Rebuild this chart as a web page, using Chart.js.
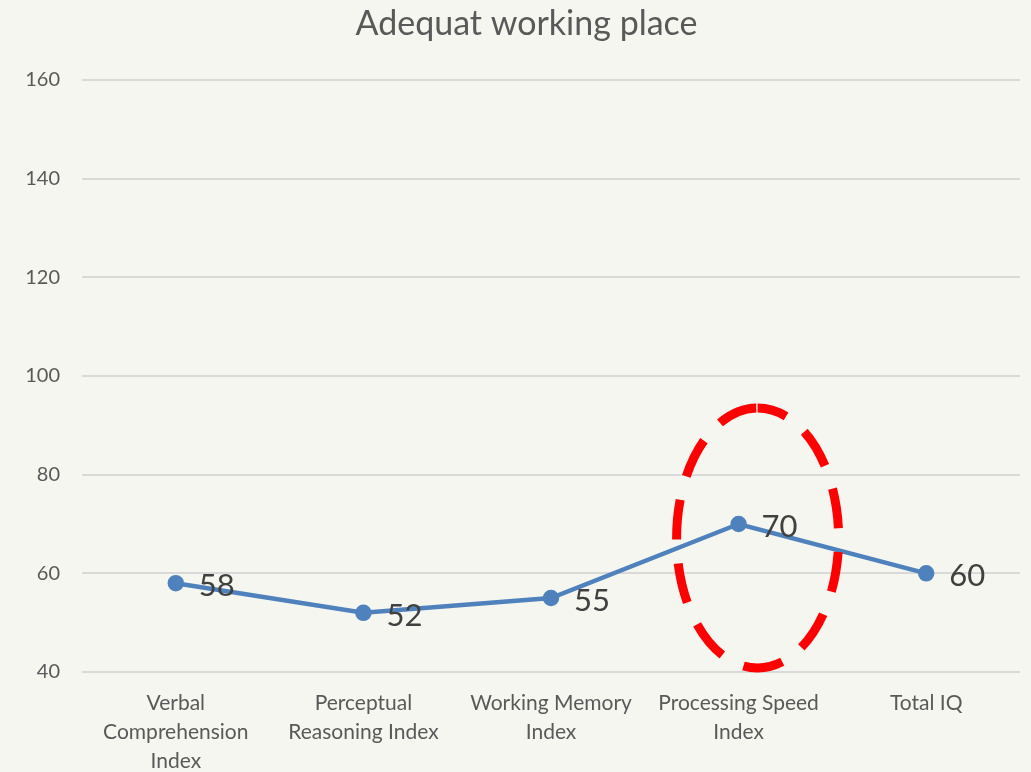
<!DOCTYPE html>
<html>
<head>
<meta charset="utf-8">
<script src="https://cdn.jsdelivr.net/npm/chart.js@4/dist/chart.umd.min.js"></script>
<style>
  html, body { margin: 0; padding: 0; background: #f5f6ef; }
  #wrap { width: 1031px; height: 772px; position: relative; }
</style>
</head>
<body>
<div id="wrap"><canvas id="grafico"></canvas></div>
<script>
const titulo = 'Adequat working place';
const categorias = [
  ['Verbal', 'Comprehension', 'Index'],
  ['Perceptual', 'Reasoning Index'],
  ['Working Memory', 'Index'],
  ['Processing Speed', 'Index'],
  'Total IQ'
];
const valores = [58, 52, 55, 70, 60];
const yMin = 40, yMax = 160, yPasso = 20;
const destaque = 3; // ponto circulado em vermelho

const fonte = 'Lato, "Noto Sans", sans-serif';

// título desenhado à mão (no original fica um pouco à direita do centro)
const tituloPlugin = {
  id: 'tituloPlugin',
  afterDraw(chart) {
    const ctx = chart.ctx;
    ctx.save();
    ctx.font = '34px ' + fonte;
    ctx.fillStyle = '#595959';
    ctx.textAlign = 'center';
    ctx.textBaseline = 'middle';
    ctx.fillText(titulo, chart.width / 2 + 11, 24);
    ctx.restore();
  }
};

// rótulos de valor à direita de cada ponto
const rotulos = {
  id: 'rotulos',
  afterDatasetsDraw(chart) {
    const ctx = chart.ctx;
    const meta = chart.getDatasetMeta(0);
    ctx.save();
    ctx.font = '31px ' + fonte;
    ctx.fillStyle = '#404040';
    ctx.textAlign = 'left';
    ctx.textBaseline = 'middle';
    meta.data.forEach((p, i) => {
      ctx.fillText(String(valores[i]), p.x + 23, p.y + 3);
    });
    ctx.restore();
  }
};

// elipse tracejada vermelha em volta do ponto destacado
const elipse = {
  id: 'elipse',
  afterDatasetsDraw(chart) {
    const ctx = chart.ctx;
    const p = chart.getDatasetMeta(0).data[destaque];
    ctx.save();
    ctx.strokeStyle = '#ff0000';
    ctx.lineWidth = 9;
    ctx.setLineDash([40, 24]);
    ctx.lineDashOffset = 10;
    ctx.beginPath();
    ctx.ellipse(p.x + 19, p.y + 14, 81, 130, 0, -Math.PI / 2, Math.PI * 1.5);
    ctx.stroke();
    ctx.restore();
  }
};

new Chart(document.getElementById('grafico'), {
  type: 'line',
  data: {
    labels: categorias,
    datasets: [{
      data: valores,
      borderColor: '#4f81bd',
      backgroundColor: '#4f81bd',
      borderWidth: 4.5,
      pointRadius: 6,
      pointHoverRadius: 6,
      tension: 0
    }]
  },
  options: {
    responsive: true,
    maintainAspectRatio: false,
    animation: false,
    layout: { padding: { left: 0, right: 11, top: 80, bottom: 0 } },
    plugins: {
      legend: { display: false },
      tooltip: { enabled: false },
      title: { display: false }
    },
    scales: {
      x: {
        offset: true,
        grid: { display: false, drawTicks: false },
        border: { display: false },
        ticks: {
          color: '#595959',
          font: { family: fonte, size: 21, lineHeight: 1.38 },
          padding: 17,
          maxRotation: 0,
          autoSkip: false
        },
        afterFit(scale) { scale.height = 100; }
      },
      y: {
        min: yMin,
        max: yMax,
        grid: { color: '#d9d9d9', lineWidth: 2, drawTicks: false },
        border: { display: false },
        ticks: {
          stepSize: yPasso,
          color: '#595959',
          font: { family: fonte, size: 20 },
          padding: 22
        },
        afterFit(scale) { scale.width = 82; }
      }
    }
  },
  plugins: [rotulos, elipse, tituloPlugin]
});
</script>
</body>
</html>
